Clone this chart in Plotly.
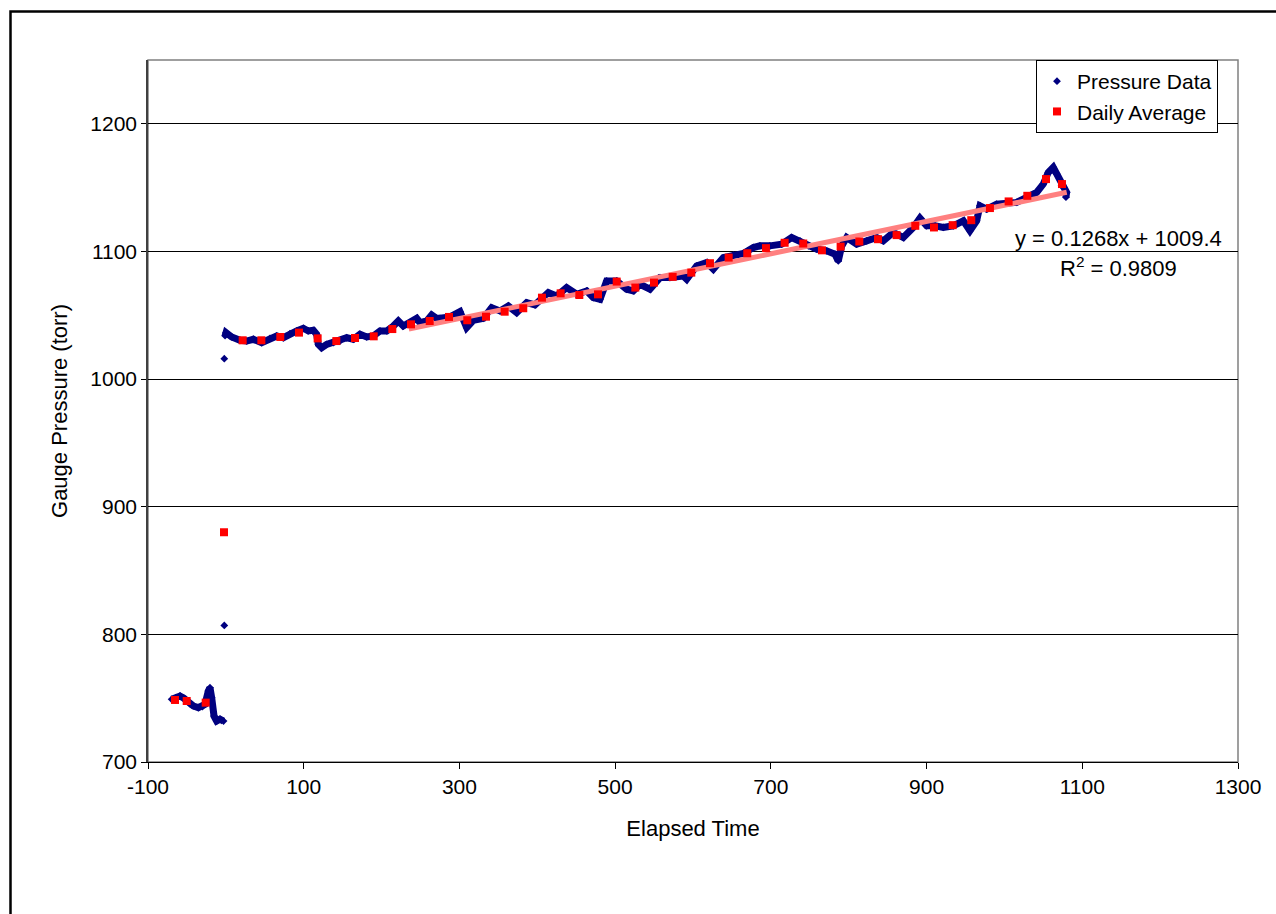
import plotly.graph_objects as go

# ---------------- data ----------------
# Pressure data before the jump (elapsed time, gauge pressure)
pre_t = [-69.6, -64, -58.9, -54, -50.3, -46, -41.8, -35.4, -30, -26.8, -22.5, -20.4, -18.2, -15.2, -11.8, -7.5, -3]
pre_p = [749.1, 750.5, 751.7, 750.0, 747.8, 745.5, 743.9, 742.6, 743.5, 745.2, 755.6, 758.2, 750.4, 736.0, 732.1, 733.5, 732.1]

# isolated transition readings
jump_t = [-2, -2]
jump_p = [807.0, 1016.0]

# Pressure data after the jump
main_t = [-1, 0.2, 7.5, 18.2, 26.8, 35.3, 46.0, 56.7, 65.3, 73.8, 82.4, 91.0, 99.5, 105.9, 112.3, 116.6,
          118.8, 123.1, 129.5, 138.0, 146.6, 155.2, 163.7, 172.3, 180.9, 189.4, 198.0, 206.6, 215.1,
          221.5, 227.9, 236.5, 245.1, 249.4, 258.0, 264.4, 270.8, 275.0, 287.9, 300.7, 309.3, 317.8,
          330.7, 341.4, 352.1, 362.8, 373.5, 386.4, 397.0, 414.2, 424.9, 437.7, 450.6, 463.4, 471.9,
          480.5, 489.1, 502.0, 514.8, 523.3, 531.9, 544.7, 557.6, 570.4, 587.5, 591.9, 604.7, 617.5,
          626.1, 638.9, 651.8, 664.6, 677.5, 686.0, 698.9, 713.8, 726.7, 737.4, 748.1, 758.8, 771.7,
          782.4, 786.6, 791.0, 797.4, 810.2, 823.1, 835.9, 844.4, 857.3, 870.1, 882.9, 891.5, 900.1,
          910.8, 921.5, 934.3, 947.2, 955.7, 964.3, 968.6, 977.2, 990.0, 1002.9, 1015.7, 1028.6,
          1041.4, 1049.9, 1056.3, 1062.7, 1067.1, 1073.4, 1079.9, 1079.0]
main_p = [1034.0, 1036.4, 1033.0, 1030.4, 1029.8, 1031.2, 1028.5, 1031.9, 1033.8, 1032.4, 1035.6, 1037.7,
          1039.8, 1037.7, 1038.2, 1035.1, 1027.2, 1024.6, 1027.2, 1028.5, 1029.8, 1032.4, 1031.2,
          1035.1, 1033.0, 1033.8, 1037.7, 1037.7, 1041.6, 1045.5, 1041.6, 1044.2, 1047.6, 1044.2,
          1045.5, 1050.2, 1047.6, 1047.6, 1048.7, 1052.9, 1040.3, 1046.0, 1047.6, 1056.0, 1053.4,
          1057.3, 1052.1, 1059.9, 1058.1, 1067.8, 1065.1, 1071.7, 1066.5, 1069.1, 1063.8, 1062.5,
          1076.9, 1076.9, 1070.4, 1069.1, 1074.3, 1070.4, 1079.5, 1079.5, 1080.8, 1078.2, 1088.7,
          1091.3, 1086.1, 1095.2, 1097.3, 1098.4, 1103.1, 1104.4, 1104.4, 1105.7, 1110.9, 1108.3,
          1104.4, 1101.8, 1100.5, 1097.9, 1092.6, 1104.4, 1110.9, 1105.7, 1108.3, 1110.9, 1108.3,
          1114.9, 1110.9, 1118.8, 1126.1, 1120.1, 1120.1, 1118.8, 1120.1, 1124.0, 1116.2, 1124.0,
          1135.8, 1133.2, 1137.1, 1138.4, 1138.4, 1142.3, 1146.2, 1152.8, 1161.9, 1165.9, 1160.7,
          1151.5, 1146.2, 1142.5]

# Daily averages
avg_t = [-65.3, -50.3, -25.9, -2.4, 21.6, 45.6, 69.9, 93.9, 117.9, 141.9, 165.9, 189.9, 213.8, 237.8,
         261.8, 286.6, 310.1, 334.1, 358.1, 382.0, 406.0, 430.0, 454.0, 478.0, 502.0, 525.9, 549.9,
         573.9, 597.8, 621.8, 645.8, 669.7, 693.7, 717.7, 741.6, 765.6, 789.6, 813.6, 837.6, 861.5,
         885.5, 909.5, 933.5, 957.4, 981.4, 1005.4, 1029.4, 1053.4, 1073.9]
avg_p = [748.6, 747.8, 746.5, 880.0, 1030.4, 1030.4, 1033.0, 1036.4, 1031.9, 1029.8, 1032.2, 1033.5,
         1039.2, 1042.9, 1045.5, 1048.7, 1046.1, 1048.9, 1052.8, 1055.5, 1063.8, 1067.2, 1065.9,
         1066.4, 1076.4, 1071.7, 1075.6, 1080.1, 1083.4, 1090.8, 1095.2, 1098.6, 1102.6, 1106.8,
         1106.2, 1100.9, 1103.8, 1107.8, 1109.6, 1112.8, 1120.1, 1118.8, 1120.6, 1124.5, 1134.0,
         1139.2, 1143.6, 1156.7, 1152.8]

# Linear trendline (as printed on the chart)
trend_slope = 0.1268
trend_intercept = 1009.4
trend_r2 = 0.9809
trend_t = [235.0, 1080.0]

x_ticks = [-100, 100, 300, 500, 700, 900, 1100, 1300]
y_ticks = [700, 800, 900, 1000, 1100, 1200]

# ---------------- figure ----------------
FONT = "Arial, Liberation Sans, sans-serif"
NAVY = "#000080"

line_t = pre_t + [None] + main_t
line_p = pre_p + [None] + main_p
all_t = pre_t + jump_t + main_t
all_p = pre_p + jump_p + main_p
trend_p = [trend_slope * t + trend_intercept for t in trend_t]

fig = go.Figure()
fig.add_trace(go.Scatter(x=line_t, y=line_p, mode="lines", line=dict(color=NAVY, width=7),
                         showlegend=False, hoverinfo="skip", legendgroup="p"))
fig.add_trace(go.Scatter(x=all_t, y=all_p, mode="markers", name="Pressure Data", legendgroup="p",
                         marker=dict(symbol="diamond", size=6, color=NAVY)))
fig.add_trace(go.Scatter(x=trend_t, y=trend_p, mode="lines", showlegend=False,
                         line=dict(color="#FF8080", width=5)))
fig.add_trace(go.Scatter(x=avg_t, y=avg_p, mode="markers", name="Daily Average",
                         marker=dict(symbol="square", size=8, color="#FF0000")))

L, T, W, H = 148, 60, 1090, 702
def px(xp):
    return (xp - L) / W
def py(yp):
    return (T + H - yp) / H

shapes = [
    # plot-area border
    dict(type="rect", xref="paper", yref="paper", x0=0, x1=1, y0=0, y1=1,
         line=dict(color="#808080", width=1.5), layer="below"),
    # chart outer border
    dict(type="rect", xref="paper", yref="paper", x0=px(10.5), x1=px(1290), y0=py(930), y1=py(11.5),
         line=dict(color="black", width=2.5)),
]

fig.update_layout(
    width=1276, height=914,
    margin=dict(l=L, r=1276 - L - W, t=T, b=914 - T - H),
    paper_bgcolor="white", plot_bgcolor="white",
    font=dict(family=FONT, size=22, color="black"),
    showlegend=True,
    legend=dict(x=px(1218), y=py(60), xanchor="right", yanchor="top",
                bgcolor="white", bordercolor="black", borderwidth=1,
                font=dict(family=FONT, size=21, color="black"),
                itemwidth=30, tracegroupgap=0),
    shapes=shapes,
    annotations=[
        dict(x=px(1118.5), y=py(238), xref="paper", yref="paper", showarrow=False,
             text=f"y = {trend_slope}x + {trend_intercept}", font=dict(family=FONT, size=22),
             xanchor="center", yanchor="middle"),
        dict(x=px(1118.5), y=py(267), xref="paper", yref="paper", showarrow=False,
             text=f"R<sup>2</sup> = {trend_r2}", font=dict(family=FONT, size=22),
             xanchor="center", yanchor="middle"),
    ],
)
fig.update_xaxes(range=[-100, 1300], tickvals=x_ticks, ticktext=[str(v) for v in x_ticks],
                 tickfont=dict(family=FONT, size=21),
                 showgrid=False, zeroline=False, showline=True, linecolor="black", linewidth=1,
                 ticks="outside", ticklen=6, tickcolor="black", tickwidth=1,
                 title=dict(text="Elapsed Time", standoff=23, font=dict(family=FONT, size=22)))
fig.update_yaxes(range=[700, 1250], tickvals=y_ticks, ticktext=[str(v) for v in y_ticks],
                 tickfont=dict(family=FONT, size=21),
                 showgrid=True, gridcolor="black", gridwidth=1, zeroline=False,
                 showline=True, linecolor="#404040", linewidth=1.5,
                 ticks="outside", ticklen=5, tickcolor="black", tickwidth=1,
                 title=dict(text="Gauge Pressure (torr)", standoff=17, font=dict(family=FONT, size=22)))

fig.write_html("out.html")
